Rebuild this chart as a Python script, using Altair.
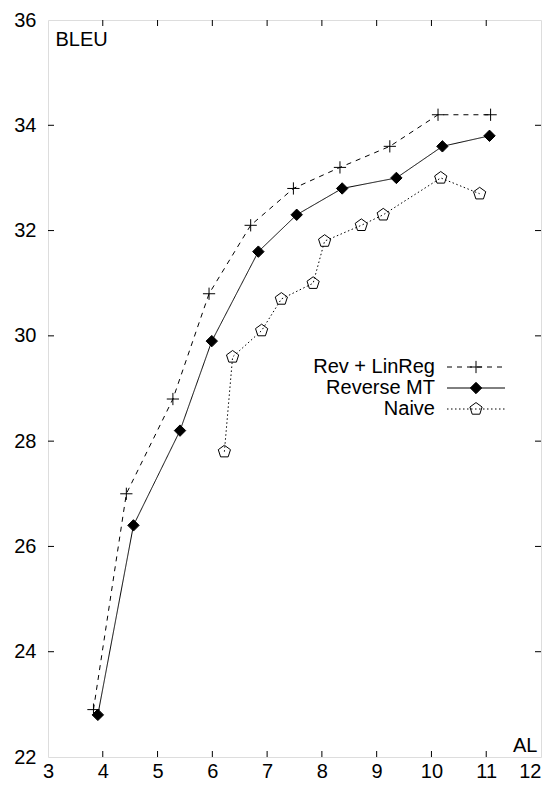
import altair as alt
import pandas as pd

# ---- data ----
series_names = ["Rev + LinReg", "Reverse MT", "Naive"]

rev_linreg_al = [3.83, 4.43, 5.28, 5.94, 6.70, 7.48, 8.33, 9.24, 10.12, 11.08]
rev_linreg_bleu = [22.9, 27.0, 28.8, 30.8, 32.1, 32.8, 33.2, 33.6, 34.2, 34.2]

reverse_mt_al = [3.91, 4.56, 5.41, 5.99, 6.84, 7.54, 8.37, 9.36, 10.20, 11.06]
reverse_mt_bleu = [22.8, 26.4, 28.2, 29.9, 31.6, 32.3, 32.8, 33.0, 33.6, 33.8]

naive_al = [6.22, 6.37, 6.90, 7.26, 7.84, 8.05, 8.72, 9.12, 10.17, 10.88]
naive_bleu = [27.8, 29.6, 30.1, 30.7, 31.0, 31.8, 32.1, 32.3, 33.0, 32.7]

x_ticks = [3, 4, 5, 6, 7, 8, 9, 10, 11, 12]
y_ticks = [22, 24, 26, 28, 30, 32, 34, 36]

# ---- styling ----
W, H = 493, 737
FONT = "Liberation Sans"
FS = 20
TICK = 6

PLUS = "M-1,0L1,0M0,-1L0,1"
PENTAGON = "M0,-1L0.951,-0.309L0.588,0.809L-0.588,0.809L-0.951,-0.309Z"

styles = [
    dict(dash=[5, 5], shape=PLUS, filled=False, size=150),
    dict(dash=[1, 0], shape="diamond", filled=True, size=130),
    dict(dash=[1.5, 2.5], shape=PENTAGON, filled=False, size=165),
]

xs = alt.Scale(domain=[3, 12], nice=False, zero=False)
ys = alt.Scale(domain=[22, 36], nice=False, zero=False)

x_axis = alt.Axis(
    values=x_ticks, format="d", labelOverlap=False, labelFlush=False,
    ticks=False, tickSize=0, domain=False, grid=False,
    labelFont=FONT, labelFontSize=FS, labelColor="black", labelPadding=4,
    labelAlign={"expr": "datum.value == 12 ? 'right' : 'center'"},
    title="AL", titleFont=FONT, titleFontSize=FS, titleFontWeight="normal",
    titleColor="black", titleX=W - 4, titleY=-12, titleAlign="right",
    titleBaseline="middle", titleAngle=0,
)
y_axis = alt.Axis(
    values=y_ticks, format="d", labelOverlap=False, labelFlush=False,
    ticks=False, tickSize=0, domain=False, grid=False,
    labelFont=FONT, labelFontSize=FS, labelColor="black", labelPadding=12,
    title="BLEU", titleFont=FONT, titleFontSize=FS, titleFontWeight="normal",
    titleColor="black", titleX=7, titleY=19, titleAlign="left",
    titleBaseline="middle", titleAngle=0,
)

series_data = [
    (rev_linreg_al, rev_linreg_bleu),
    (reverse_mt_al, reverse_mt_bleu),
    (naive_al, naive_bleu),
]


def X(first=False):
    if first:
        return alt.X("AL:Q", scale=xs, axis=x_axis)
    return alt.X("AL:Q", scale=xs)


def Y(first=False):
    if first:
        return alt.Y("BLEU:Q", scale=ys, axis=y_axis)
    return alt.Y("BLEU:Q", scale=ys)


layers = []
first = True
for name, (xa, ya), st in zip(series_names, series_data, styles):
    df = pd.DataFrame({"AL": xa, "BLEU": ya, "series": name})
    line = alt.Chart(df).mark_line(
        color="black", strokeWidth=1, strokeDash=st["dash"]
    ).encode(x=X(first), y=Y(first))
    first = False
    pts = alt.Chart(df).mark_point(
        shape=st["shape"], filled=st["filled"], size=st["size"],
        color="black", stroke="black", strokeWidth=1, opacity=1,
        fill="black" if st["filled"] else None,
    ).encode(x=X(), y=Y())
    layers += [line, pts]

# ---- inward tick marks on all four sides ----
xt = pd.DataFrame({"AL": x_ticks[1:-1]})
yt = pd.DataFrame({"BLEU": y_ticks[1:-1]})
rule_kw = dict(color="black", strokeWidth=1)
layers.append(alt.Chart(xt).mark_rule(**rule_kw).encode(
    x=X(), y=alt.value(H), y2=alt.value(H - TICK)))
layers.append(alt.Chart(xt).mark_rule(**rule_kw).encode(
    x=X(), y=alt.value(0), y2=alt.value(TICK)))
layers.append(alt.Chart(yt).mark_rule(**rule_kw).encode(
    y=Y(), x=alt.value(0), x2=alt.value(TICK)))
layers.append(alt.Chart(yt).mark_rule(**rule_kw).encode(
    y=Y(), x=alt.value(W), x2=alt.value(W - TICK)))

# ---- manual legend (text right-aligned, sample to the right) ----
one = alt.InlineData(values=[{"k": 1}])
LEG_TEXT_X, LEG_X1, LEG_X2, LEG_MX = 387, 399, 457, 428
LEG_Y = [347, 368, 389]
for name, st, ly in zip(series_names, styles, LEG_Y):
    layers.append(alt.Chart(one).mark_text(
        align="right", baseline="middle", font=FONT, fontSize=FS, color="black", text=name
    ).encode(x=alt.value(LEG_TEXT_X), y=alt.value(ly)))
    layers.append(alt.Chart(one).mark_rule(
        color="black", strokeWidth=1, strokeDash=st["dash"]
    ).encode(x=alt.value(LEG_X1), x2=alt.value(LEG_X2), y=alt.value(ly)))
    layers.append(alt.Chart(one).mark_point(
        shape=st["shape"], filled=st["filled"], size=st["size"],
        color="black", stroke="black", strokeWidth=1, opacity=1,
        fill="black" if st["filled"] else None,
    ).encode(x=alt.value(LEG_MX), y=alt.value(ly)))

chart = alt.layer(*layers).properties(
    width=W, height=H,
    padding={"left": 40, "top": 12, "right": 3, "bottom": 24},
    autosize=alt.AutoSizeParams(type="none"),
).configure_view(
    stroke="black", strokeWidth=1
).configure_axis(
    grid=False, ticks=False, domain=False, labelFont=FONT, labelFontSize=FS,
    labelColor="black", titleFont=FONT, titleFontSize=FS, titleColor="black",
    titleFontWeight="normal",
).configure(background="white")

chart.save("out.html", embed_options={"renderer": "svg", "actions": False})
